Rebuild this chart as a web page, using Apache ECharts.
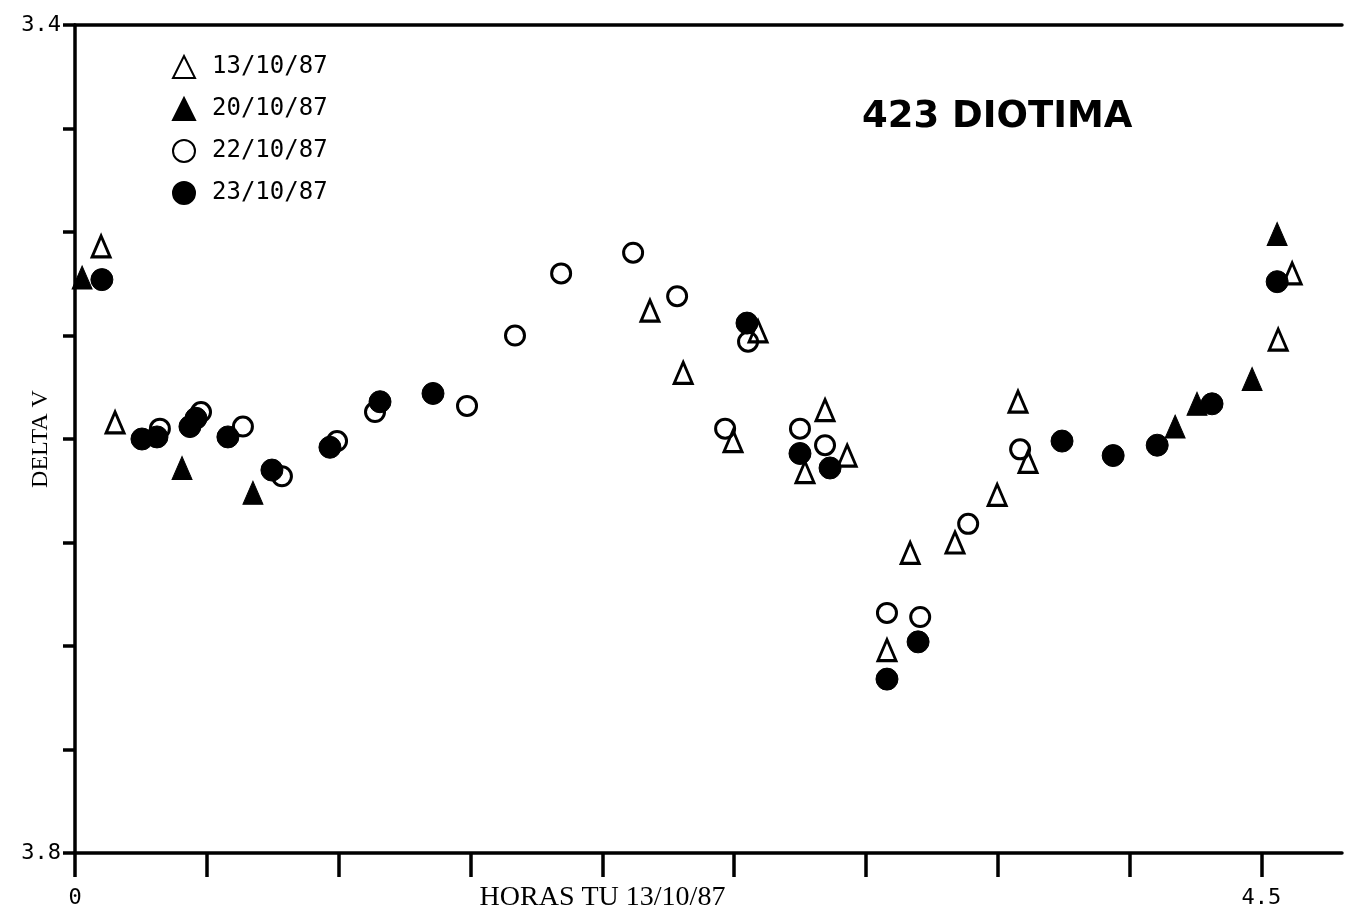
<!DOCTYPE html>
<html>
<head>
<meta charset="utf-8">
<script src="https://cdn.jsdelivr.net/npm/echarts@6/dist/echarts.min.js"></script>
<style>
html,body{margin:0;padding:0;background:#fff;}
#chart{width:1346px;height:910px;}
</style>
</head>
<body>
<div id="chart"></div>
<script>
// ---- data ----
const seriesNames = ['13/10/87', '20/10/87', '22/10/87', '23/10/87'];

const hours13 = [0.099, 0.152, 2.181, 2.307, 2.496, 2.591, 2.769, 2.845, 2.929, 3.080, 3.168, 3.338, 3.498, 3.577, 3.615, 4.564, 4.617];
const deltaV13 = [3.507, 3.592, 3.538, 3.568, 3.601, 3.548, 3.616, 3.586, 3.608, 3.702, 3.655, 3.650, 3.627, 3.582, 3.611, 3.552, 3.520];

const hours20 = [0.027, 0.406, 0.675, 4.173, 4.256, 4.465, 4.560];
const deltaV20 = [3.522, 3.614, 3.626, 3.594, 3.583, 3.571, 3.501];

const hours22 = [0.322, 0.478, 0.637, 0.785, 0.994, 1.138, 1.487, 1.669, 1.844, 2.117, 2.284, 2.466, 2.553, 2.750, 2.845, 3.080, 3.206, 3.388, 3.585];
const deltaV22 = [3.595, 3.587, 3.594, 3.618, 3.601, 3.587, 3.584, 3.550, 3.520, 3.510, 3.531, 3.595, 3.553, 3.595, 3.603, 3.684, 3.686, 3.641, 3.605];

const hours23 = [0.102, 0.254, 0.311, 0.436, 0.459, 0.580, 0.747, 0.967, 1.157, 1.358, 2.549, 2.750, 2.864, 3.080, 3.198, 3.744, 3.938, 4.105, 4.313, 4.560];
const deltaV23 = [3.523, 3.600, 3.599, 3.594, 3.590, 3.599, 3.615, 3.604, 3.582, 3.578, 3.544, 3.607, 3.614, 3.716, 3.698, 3.601, 3.608, 3.603, 3.583, 3.524];

const xTickValues = [0, 0.5, 1, 1.5, 2, 2.5, 3, 3.5, 4, 4.5];
const xLabelValues = [0, 4.5];
const yTickValues = [3.4, 3.45, 3.5, 3.55, 3.6, 3.65, 3.7, 3.75, 3.8];
const yLabelValues = [3.4, 3.8];

const chartTitle = '423 DIOTIMA';
const xAxisName = 'HORAS TU 13/10/87';
const yAxisName = 'DELTA V';

// ---- build ----
function pairs(xs, ys) { return xs.map((x, i) => [x, ys[i]]); }

const mono = '"DejaVu Sans Mono", monospace';
const serif = '"Liberation Serif", "DejaVu Serif", serif';

const openStyle = { color: 'rgba(255,255,255,0)', borderColor: '#000', borderWidth: 3, opacity: 1 };
const filledStyle = { color: '#000', borderColor: '#000', borderWidth: 1, opacity: 1 };

const chart = echarts.init(document.getElementById('chart'), null, { renderer: 'canvas' });

chart.setOption({
  backgroundColor: '#fff',
  animation: false,
  grid: { left: 75, right: 4, top: 25, bottom: 57, containLabel: false, outerBoundsMode: 'none' },
  legend: {
    orient: 'vertical',
    left: 167,
    top: 50,
    itemWidth: 22,
    itemHeight: 22,
    itemGap: 18,
    data: seriesNames,
    textStyle: { fontFamily: mono, fontSize: 24, color: '#000', padding: [0, 0, 0, 12], lineHeight: 22 }
  },
  graphic: [{
    type: 'text',
    left: 862,
    top: 99,
    style: {
      text: chartTitle,
      fontFamily: '"DejaVu Sans", sans-serif',
      fontWeight: 'bold',
      fontSize: 37,
      fill: '#000'
    }
  }],
  xAxis: [{
    type: 'value',
    position: 'bottom',
    min: 0,
    max: 4.806,
    splitLine: { show: false },
    axisLine: { show: true, onZero: false, lineStyle: { color: '#000', width: 3.5 } },
    axisTick: { show: true, inside: false, length: 24, customValues: xTickValues, lineStyle: { color: '#000', width: 3.5 } },
    axisLabel: {
      customValues: xLabelValues,
      margin: 34,
      fontFamily: mono,
      fontSize: 22,
      color: '#000',
      formatter: v => (v === 0 ? '0' : v.toFixed(1))
    },
    name: xAxisName,
    nameLocation: 'middle',
    nameGap: 31,
    nameMoveOverlap: false,
    nameTextStyle: { fontFamily: serif, fontSize: 28, color: '#000', padding: [0, 212, 0, 0] }
  }, {
    type: 'value',
    position: 'top',
    min: 0,
    max: 4.806,
    splitLine: { show: false },
    axisLine: { show: true, onZero: false, lineStyle: { color: '#000', width: 3.5 } },
    axisTick: { show: false },
    axisLabel: { show: false }
  }],
  yAxis: {
    type: 'value',
    inverse: true,
    min: 3.4,
    max: 3.8,
    splitLine: { show: false },
    axisLine: { show: true, onZero: false, lineStyle: { color: '#000', width: 3.5 } },
    axisTick: { show: true, inside: false, length: 12, customValues: yTickValues, lineStyle: { color: '#000', width: 3.5 } },
    axisLabel: {
      customValues: yLabelValues,
      margin: 14,
      fontFamily: mono,
      fontSize: 22,
      color: '#000',
      formatter: v => v.toFixed(1)
    },
    name: yAxisName,
    nameLocation: 'middle',
    nameGap: 22,
    nameRotate: 90,
    nameMoveOverlap: false,
    nameTextStyle: { fontFamily: serif, fontSize: 24, color: '#000' }
  },
  series: [{
    name: seriesNames[0],
    type: 'scatter',
    clip: false,
    symbol: 'triangle',
    symbolSize: [18, 21],
    itemStyle: openStyle,
    data: pairs(hours13, deltaV13)
  }, {
    name: seriesNames[1],
    type: 'scatter',
    clip: false,
    symbol: 'triangle',
    symbolSize: [20, 23],
    itemStyle: filledStyle,
    data: pairs(hours20, deltaV20)
  }, {
    name: seriesNames[2],
    type: 'scatter',
    clip: false,
    symbol: 'circle',
    symbolSize: 19,
    itemStyle: openStyle,
    data: pairs(hours22, deltaV22)
  }, {
    name: seriesNames[3],
    type: 'scatter',
    clip: false,
    symbol: 'circle',
    symbolSize: 22,
    itemStyle: filledStyle,
    data: pairs(hours23, deltaV23)
  }]
});
</script>
</body>
</html>
